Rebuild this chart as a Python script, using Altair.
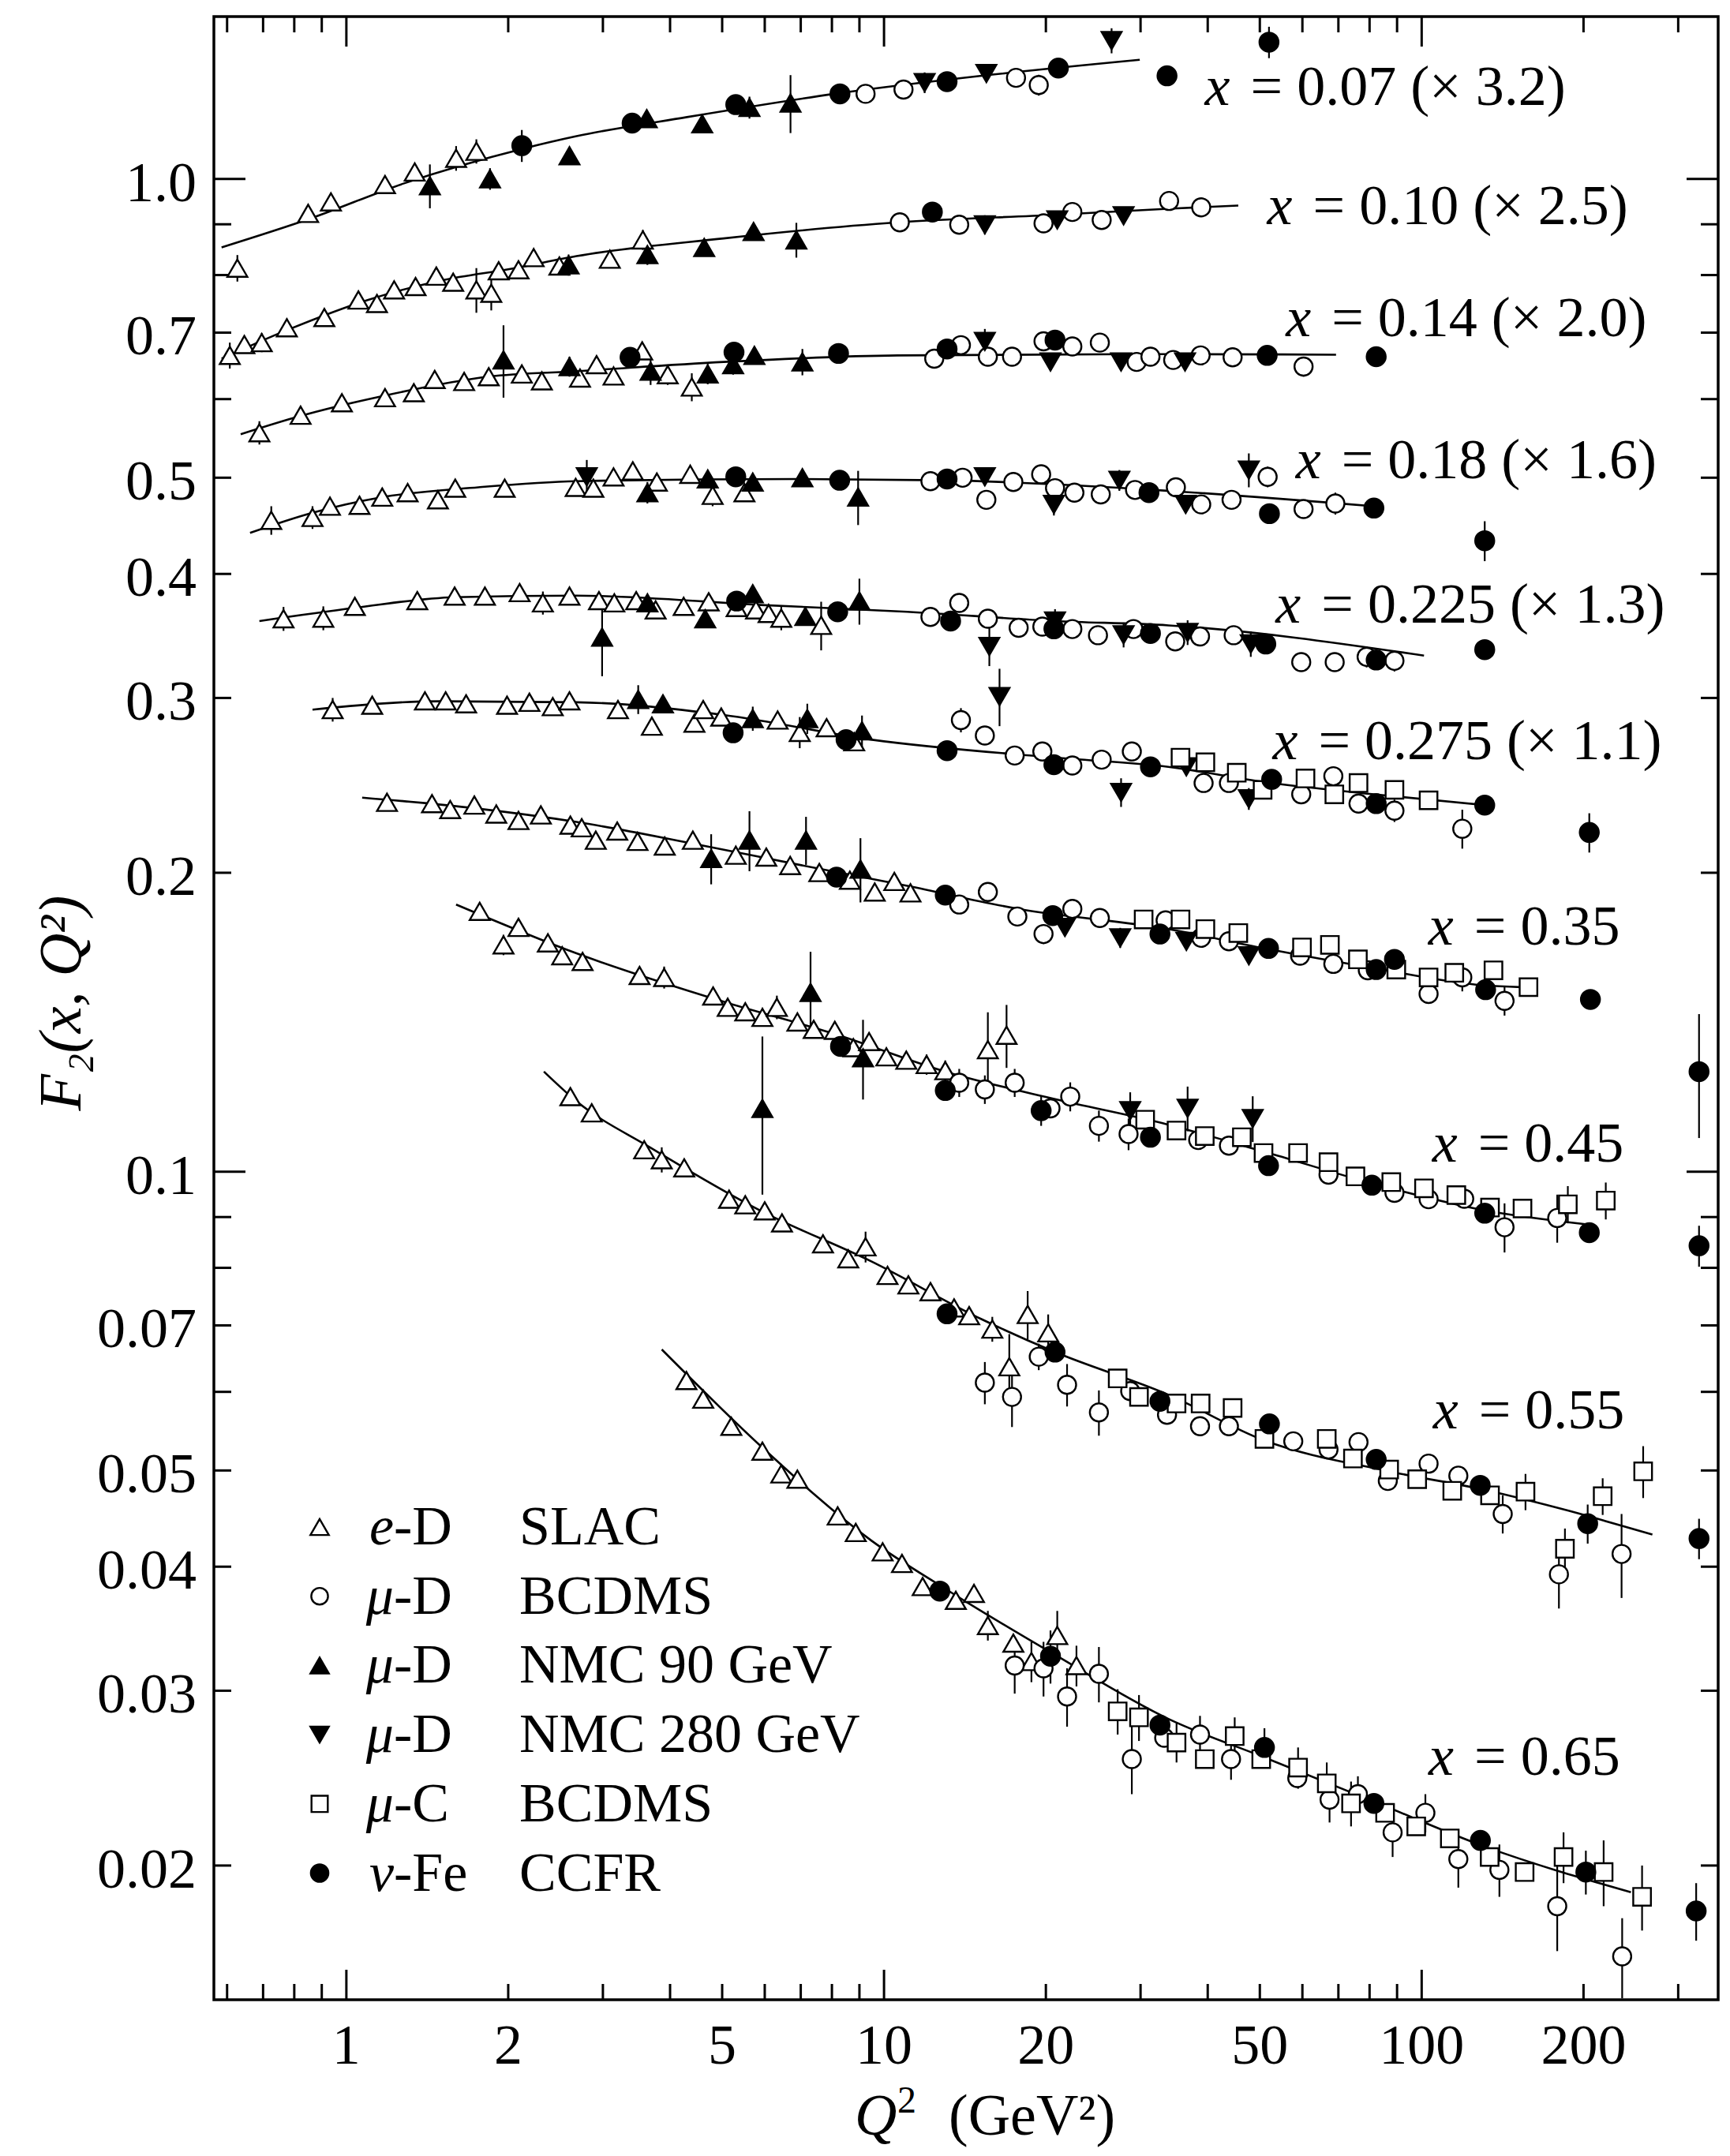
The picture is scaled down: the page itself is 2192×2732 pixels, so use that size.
import altair as alt
import pandas as pd

# ------------------------------------------------------------------
# Values.  Each entry: (Q^2 [GeV^2], F2, error)
# error 0 = error bar hidden by the marker
# ------------------------------------------------------------------
slac_eD = [
    # x = 0.07
    (0.627, 0.813, 0.025), (0.849, 0.923, 0), (0.936, 0.948, 0), (1.18, 0.987, 0),
    (1.34, 1.016, 0), (1.60, 1.049, 0.03), (1.745, 1.066, 0.03),
    # x = 0.10
    (0.607, 0.664, 0.02), (0.646, 0.681, 0), (0.696, 0.684, 0.015), (0.775, 0.708, 0.015),
    (0.910, 0.725, 0.015), (1.053, 0.755, 0), (1.14, 0.749, 0), (1.227, 0.773, 0),
    (1.345, 0.779, 0), (1.47, 0.798, 0), (1.58, 0.787, 0), (1.745, 0.773, 0.04),
    (1.86, 0.767, 0.03), (1.92, 0.808, 0), (2.09, 0.810, 0), (2.23, 0.833, 0),
    (2.49, 0.817, 0.015), (3.09, 0.830, 0.01), (3.56, 0.868, 0.02),
    # x = 0.14
    (0.689, 0.555, 0.015), (0.822, 0.578, 0), (0.981, 0.595, 0), (1.18, 0.602, 0),
    (1.335, 0.609, 0), (1.46, 0.628, 0), (1.656, 0.625, 0), (1.84, 0.632, 0),
    (2.12, 0.636, 0), (2.31, 0.626, 0), (2.72, 0.630, 0), (2.92, 0.650, 0.01),
    (3.14, 0.633, 0.01), (3.55, 0.671, 0), (3.96, 0.635, 0.015), (4.39, 0.617, 0.02),
    # x = 0.18
    (0.725, 0.453, 0.015), (0.865, 0.456, 0.012), (0.932, 0.468, 0), (1.058, 0.469, 0.01),
    (1.166, 0.478, 0.01), (1.30, 0.483, 0), (1.48, 0.475, 0), (1.594, 0.488, 0),
    (1.97, 0.488, 0), (2.67, 0.489, 0), (2.88, 0.488, 0), (3.14, 0.501, 0),
    (3.41, 0.508, 0), (3.78, 0.495, 0), (4.36, 0.504, 0), (4.80, 0.480, 0.012),
    (5.50, 0.483, 0.01),
    # x = 0.225
    (0.764, 0.3605, 0.01), (0.906, 0.361, 0.01), (1.037, 0.371, 0), (1.355, 0.376, 0),
    (1.59, 0.380, 0), (1.81, 0.380, 0), (2.10, 0.383, 0), (2.32, 0.374, 0.01),
    (2.60, 0.380, 0), (2.95, 0.376, 0), (3.15, 0.374, 0), (3.46, 0.376, 0),
    (3.76, 0.368, 0), (4.24, 0.371, 0), (4.72, 0.375, 0), (5.32, 0.370, 0),
    (5.78, 0.368, 0), (6.10, 0.365, 0), (6.44, 0.361, 0.01), (7.64, 0.355, 0.02),
    # x = 0.275
    (0.943, 0.292, 0.008), (1.117, 0.295, 0), (1.40, 0.298, 0), (1.53, 0.298, 0),
    (1.67, 0.296, 0), (1.99, 0.295, 0), (2.19, 0.297, 0), (2.42, 0.294, 0),
    (2.60, 0.298, 0), (3.20, 0.292, 0), (3.70, 0.281, 0), (4.44, 0.283, 0),
    (4.61, 0.292, 0), (4.98, 0.287, 0), (6.34, 0.285, 0), (6.97, 0.277, 0.01),
    (7.82, 0.280, 0), (8.80, 0.271, 0),
    # x = 0.35
    (1.19, 0.2355, 0), (1.443, 0.2348, 0), (1.56, 0.2316, 0.004), (1.73, 0.2340, 0),
    (1.90, 0.2292, 0), (2.09, 0.2258, 0), (2.30, 0.2287, 0), (2.61, 0.2234, 0),
    (2.74, 0.2220, 0), (2.91, 0.2157, 0), (3.19, 0.2203, 0), (3.48, 0.2151, 0),
    (3.91, 0.2128, 0), (4.41, 0.2157, 0), (5.30, 0.2083, 0), (6.04, 0.2074, 0),
    (6.69, 0.2034, 0), (7.58, 0.2001, 0), (8.64, 0.1966, 0), (9.61, 0.1913, 0.003),
    (10.45, 0.1960, 0.003), (11.2, 0.1909, 0.003),
    # x = 0.45
    (1.77, 0.1829, 0), (1.96, 0.1692, 0.004), (2.09, 0.1762, 0), (2.37, 0.1700, 0),
    (2.52, 0.1650, 0), (2.75, 0.1628, 0), (3.51, 0.1576, 0), (3.90, 0.1569, 0.004),
    (4.81, 0.1503, 0), (5.12, 0.1464, 0), (5.52, 0.1449, 0), (5.94, 0.1430, 0),
    (6.32, 0.1464, 0.004), (6.90, 0.1415, 0), (7.40, 0.1391, 0), (8.10, 0.1388, 0),
    (8.77, 0.1333, 0), (9.38, 0.1352, 0), (10.1, 0.1305, 0), (11.0, 0.1295, 0),
    (12.0, 0.1282, 0.003), (13.0, 0.1264, 0.003), (15.6, 0.1327, 0.012), (16.9, 0.1372, 0.01),
    # x = 0.55
    (2.61, 0.1190, 0), (2.86, 0.1146, 0), (3.58, 0.1052, 0), (3.86, 0.1028, 0.003),
    (4.25, 0.1009, 0), (5.15, 0.0938, 0), (5.52, 0.0926, 0), (6.00, 0.0913, 0),
    (6.46, 0.0888, 0), (7.70, 0.0846, 0), (8.58, 0.0817, 0), (9.24, 0.0840, 0.003),
    (10.15, 0.0786, 0), (11.1, 0.0769, 0), (12.2, 0.0757, 0), (13.5, 0.0729, 0),
    (14.4, 0.0716, 0), (15.9, 0.0694, 0.002), (17.1, 0.0636, 0.005), (18.5, 0.0718, 0.004),
    (20.2, 0.0688, 0.003),
    # x = 0.65
    (4.29, 0.0616, 0), (4.61, 0.0590, 0), (5.20, 0.0554, 0), (5.94, 0.0523, 0),
    (6.44, 0.0496, 0), (6.90, 0.0490, 0), (8.20, 0.0450, 0), (8.86, 0.0433, 0),
    (9.94, 0.0414, 0), (10.8, 0.0403, 0), (11.8, 0.0382, 0), (13.6, 0.0370, 0),
    (14.7, 0.0376, 0), (15.6, 0.0349, 0.0012), (17.4, 0.0335, 0), (18.8, 0.0321, 0.0015),
    (21.0, 0.0341, 0.002), (22.8, 0.0318, 0.0015),
]

bcdms_muD = [
    # x = 0.07
    (9.24, 1.218, 0), (10.87, 1.230, 0), (17.6, 1.264, 0), (19.4, 1.243, 0.03),
    # x = 0.10
    (10.7, 0.904, 0), (13.8, 0.899, 0), (19.8, 0.902, 0), (22.4, 0.926, 0),
    (25.4, 0.909, 0), (33.9, 0.950, 0.015), (38.9, 0.936, 0.015),
    # x = 0.14
    (12.4, 0.659, 0), (13.9, 0.680, 0), (15.6, 0.662, 0), (17.3, 0.662, 0),
    (19.8, 0.686, 0), (22.4, 0.678, 0), (25.2, 0.684, 0), (29.5, 0.654, 0),
    (31.3, 0.662, 0), (34.5, 0.657, 0), (38.8, 0.664, 0.012), (44.5, 0.661, 0),
    (60.3, 0.647, 0.015),
    # x = 0.18
    (12.2, 0.496, 0), (14.0, 0.500, 0), (15.5, 0.475, 0), (17.4, 0.495, 0),
    (19.6, 0.504, 0), (20.8, 0.488, 0), (22.6, 0.483, 0), (25.3, 0.481, 0),
    (29.3, 0.486, 0), (34.9, 0.489, 0), (38.9, 0.470, 0), (44.3, 0.475, 0),
    (51.7, 0.501, 0.012), (60.3, 0.465, 0.01), (69.1, 0.471, 0.012),
    # x = 0.225
    (12.2, 0.362, 0), (13.8, 0.374, 0), (15.6, 0.3605, 0), (17.8, 0.353, 0),
    (19.7, 0.354, 0), (22.4, 0.352, 0), (25.0, 0.347, 0), (29.1, 0.352, 0),
    (34.8, 0.342, 0), (38.7, 0.346, 0), (44.7, 0.347, 0), (59.7, 0.326, 0),
    (68.9, 0.326, 0), (79.0, 0.330, 0.008), (89.0, 0.327, 0.008),
    # x = 0.275
    (13.9, 0.285, 0.008), (15.4, 0.275, 0), (17.5, 0.2625, 0), (19.7, 0.265, 0),
    (22.4, 0.2565, 0), (25.4, 0.260, 0), (28.9, 0.265, 0), (39.3, 0.2463, 0),
    (43.8, 0.2463, 0), (59.7, 0.2399, 0), (68.5, 0.2502, 0), (76.3, 0.2348, 0),
    (89.0, 0.2310, 0.006), (119, 0.2215, 0.01),
    # x = 0.35
    (13.8, 0.1858, 0), (15.6, 0.1913, 0.004), (17.7, 0.1807, 0.004), (19.8, 0.1735, 0.004),
    (22.4, 0.1839, 0.004), (25.2, 0.1801, 0), (33.4, 0.1791, 0), (38.9, 0.1720, 0),
    (43.8, 0.1706, 0), (59.4, 0.1650, 0), (68.5, 0.1619, 0), (79.4, 0.1595, 0),
    (103, 0.1510, 0), (119, 0.1569, 0.005), (142.6, 0.1486, 0.005),
    # x = 0.45
    (13.8, 0.1229, 0.004), (15.4, 0.1210, 0.004), (17.5, 0.1229, 0.004), (20.4, 0.1158, 0),
    (22.2, 0.1190, 0.004), (25.1, 0.1112, 0.004), (28.5, 0.1091, 0.004), (38.4, 0.1076, 0),
    (43.8, 0.1062, 0), (67.1, 0.0993, 0), (89.0, 0.0952, 0), (103, 0.0938, 0),
    (120, 0.0939, 0), (142.6, 0.0879, 0.005), (178.7, 0.0898, 0.005),
    # x = 0.55
    (15.4, 0.0613, 0.003), (17.3, 0.0593, 0.004), (19.4, 0.0651, 0.002), (21.9, 0.0610, 0.003),
    (25.1, 0.0572, 0.003), (28.7, 0.0601, 0), (33.6, 0.0569, 0), (38.7, 0.0554, 0),
    (43.8, 0.0554, 0), (57.7, 0.0535, 0), (67.1, 0.0525, 0), (76.3, 0.0534, 0),
    (86.5, 0.0488, 0), (103, 0.0508, 0), (117, 0.0494, 0), (141.5, 0.0452, 0.002),
    (180, 0.0393, 0.003), (235.4, 0.0412, 0.004),
    # x = 0.65
    (17.5, 0.0318, 0.002), (19.8, 0.0316, 0.002), (21.9, 0.0296, 0.002), (25.1, 0.0312, 0.002),
    (28.9, 0.0256, 0.002), (33.2, 0.0269, 0), (38.7, 0.0271, 0.0012), (44.2, 0.0256, 0.0012),
    (58.7, 0.0245, 0), (67.4, 0.0233, 0.0012), (76.1, 0.0236, 0.001), (88.3, 0.0216, 0.0012),
    (101.6, 0.0226, 0.001), (117, 0.0203, 0.0013), (139.5, 0.0198, 0.0012),
    (178.7, 0.0182, 0.0018), (236, 0.0162, 0.0015),
]

nmc90_muD = [
    # x = 0.07
    (1.43, 0.984, 0.05), (1.85, 1.000, 0.025), (2.60, 1.055, 0), (3.62, 1.150, 0.02),
    (4.59, 1.136, 0.02), (5.62, 1.180, 0.03), (6.70, 1.192, 0.08),
    # x = 0.10
    (2.59, 0.819, 0.02), (3.63, 0.839, 0.02), (4.63, 0.853, 0), (5.72, 0.885, 0),
    (6.87, 0.868, 0.035),
    # x = 0.14
    (1.96, 0.657, 0.055), (2.60, 0.647, 0.015), (3.68, 0.640, 0.02), (4.70, 0.636, 0.015),
    (5.24, 0.650, 0.015), (5.74, 0.664, 0), (7.05, 0.654, 0.02),
    # x = 0.18
    (3.63, 0.483, 0.012), (4.70, 0.4985, 0), (5.70, 0.495, 0), (7.05, 0.500, 0),
    (8.95, 0.478, 0.03),
    # x = 0.225
    (2.99, 0.3455, 0.03), (3.63, 0.374, 0), (4.65, 0.3605, 0), (5.70, 0.382, 0),
    (7.14, 0.3624, 0), (9.00, 0.3756, 0.02),
    # x = 0.275
    (3.49, 0.299, 0.01), (3.88, 0.296, 0), (5.70, 0.286, 0.008), (7.20, 0.286, 0.01),
    (9.10, 0.278, 0.01),
    # x = 0.35
    (4.77, 0.2067, 0.012), (5.62, 0.2157, 0.015), (7.16, 0.2157, 0.012), (9.04, 0.2017, 0.015),
    # x = 0.45
    (5.94, 0.1158, 0.021), (7.30, 0.1515, 0.015), (9.14, 0.1302, 0.012),
]

nmc280_muD = [
    # x = 0.07
    (11.9, 1.250, 0.03), (15.5, 1.277, 0), (26.5, 1.378, 0.04),
    # x = 0.10
    (15.4, 0.899, 0.02), (21.0, 0.909, 0), (27.9, 0.918, 0),
    # x = 0.14
    (15.4, 0.686, 0.02), (20.4, 0.654, 0), (27.6, 0.654, 0), (36.3, 0.654, 0.01),
    # x = 0.18
    (2.80, 0.501, 0.02), (15.4, 0.501, 0.01), (20.7, 0.470, 0.012), (27.4, 0.497, 0.012),
    (36.4, 0.470, 0), (47.7, 0.509, 0.02),
    # x = 0.225
    (15.7, 0.338, 0.015), (20.8, 0.3586, 0.01), (27.9, 0.3473, 0.01), (36.7, 0.3492, 0.01),
    (48.1, 0.340, 0.01),
    # x = 0.275
    (16.4, 0.301, 0.02), (27.6, 0.241, 0.008), (36.5, 0.2557, 0), (47.7, 0.2374, 0.006),
    # x = 0.35
    (21.7, 0.1762, 0), (27.5, 0.1720, 0.004), (36.5, 0.1706, 0.003), (47.7, 0.1650, 0.003),
    # x = 0.45
    (28.7, 0.1152, 0.005), (36.7, 0.1158, 0.006), (48.5, 0.1131, 0.006),
]

bcdms_muC = [
    # x = 0.275
    (35.6, 0.2612, 0), (39.6, 0.2584, 0), (45.3, 0.2522, 0), (50.6, 0.2424, 0),
    (60.8, 0.2489, 0), (68.8, 0.2399, 0), (76.3, 0.2463, 0), (89.0, 0.2424, 0),
    (103, 0.2366, 0.005),
    # x = 0.35
    (30.4, 0.1795, 0), (35.6, 0.1795, 0), (39.6, 0.1755, 0), (45.6, 0.1739, 0),
    (59.9, 0.1682, 0), (67.5, 0.1692, 0), (76.1, 0.1636, 0), (89.7, 0.1598, 0),
    (103, 0.1569, 0), (115, 0.1586, 0), (136, 0.1595, 0), (158, 0.1534, 0),
    # x = 0.45
    (30.6, 0.1128, 0), (35.0, 0.1100, 0), (39.5, 0.1086, 0), (46.3, 0.1083, 0),
    (50.8, 0.1044, 0), (58.9, 0.1044, 0), (67.1, 0.1022, 0), (75.3, 0.0989, 0),
    (87.8, 0.0976, 0), (101, 0.0962, 0), (116, 0.0947, 0), (134, 0.0920, 0),
    (154, 0.0918, 0), (187, 0.0927, 0.004), (220, 0.0935, 0.004),
    # x = 0.55
    (27.2, 0.0619, 0), (29.8, 0.0593, 0), (35.0, 0.0584, 0), (38.8, 0.0584, 0),
    (44.5, 0.0578, 0), (51.0, 0.0538, 0), (66.6, 0.0538, 0), (74.5, 0.0514, 0),
    (87.0, 0.0501, 0), (98.1, 0.0490, 0), (114, 0.0477, 0), (134, 0.0472, 0),
    (156, 0.0476, 0.002), (184.7, 0.0417, 0.002), (217.1, 0.0471, 0.002), (258.2, 0.0499, 0.003),
    # x = 0.65
    (27.2, 0.0286, 0.0015), (29.8, 0.0282, 0.0015), (35.0, 0.0266, 0.0012), (39.5, 0.0256, 0),
    (44.9, 0.0270, 0.0012), (50.3, 0.0256, 0), (58.9, 0.0251, 0.0012), (66.6, 0.0242, 0.0012),
    (73.9, 0.0231, 0.0012), (85.5, 0.0226, 0), (97.7, 0.0219, 0), (112.8, 0.0213, 0),
    (133.8, 0.0204, 0), (155.4, 0.0197, 0), (183.6, 0.0204, 0.0012), (218, 0.0197, 0.0015),
    (257, 0.0186, 0.0014),
]

ccfr_nuFe = [
    # x = 0.07
    (2.12, 1.080, 0.04), (3.40, 1.138, 0), (5.30, 1.188, 0), (8.28, 1.218, 0),
    (13.1, 1.253, 0), (21.1, 1.293, 0), (33.6, 1.270, 0), (52.0, 1.373, 0.05),
    # x = 0.10
    (12.3, 0.926, 0.02),
    # x = 0.14
    (3.37, 0.661, 0), (5.26, 0.669, 0), (8.23, 0.667, 0), (13.1, 0.674, 0),
    (20.8, 0.688, 0), (51.6, 0.664, 0.012), (82.3, 0.662, 0.012),
    # x = 0.18
    (5.30, 0.501, 0), (8.27, 0.497, 0), (13.1, 0.4985, 0), (31.1, 0.483, 0),
    (52.1, 0.460, 0), (81.5, 0.466, 0), (131, 0.432, 0.02),
    # x = 0.225
    (5.32, 0.3756, 0), (8.20, 0.3664, 0), (13.3, 0.3586, 0), (20.7, 0.3522, 0),
    (31.3, 0.3484, 0), (51.3, 0.340, 0), (82.3, 0.3276, 0), (131, 0.3356, 0),
    # x = 0.275
    (5.24, 0.2767, 0), (8.50, 0.2723, 0), (13.1, 0.2655, 0), (20.7, 0.2570, 0.006),
    (31.3, 0.2557, 0), (52.6, 0.2484, 0), (82.3, 0.2348, 0), (131, 0.2340, 0),
    (205, 0.2196, 0.01),
    # x = 0.35
    (8.16, 0.1980, 0), (13.0, 0.1899, 0), (20.6, 0.1811, 0), (32.6, 0.1735, 0),
    (51.9, 0.1678, 0), (82.3, 0.1598, 0), (89.0, 0.1636, 0), (131.5, 0.1525, 0),
    (206, 0.1491, 0), (328, 0.1261, 0.018),
    # x = 0.45
    (8.30, 0.1337, 0), (13.0, 0.1207, 0), (19.6, 0.1152, 0.004), (31.3, 0.1083, 0),
    (51.9, 0.1014, 0), (80.8, 0.0969, 0), (131, 0.0908, 0), (205, 0.0868, 0),
    (328, 0.0842, 0.004),
    # x = 0.55
    (13.1, 0.0719, 0), (20.8, 0.0658, 0), (32.6, 0.0587, 0), (52.1, 0.0557, 0),
    (82.3, 0.0513, 0), (128.5, 0.0483, 0), (203.6, 0.0442, 0.002), (328, 0.0427, 0.002),
    # x = 0.65
    (12.7, 0.0378, 0), (20.4, 0.0325, 0.002), (32.6, 0.0277, 0), (51.0, 0.0263, 0.0012),
    (81.5, 0.0231, 0), (128.6, 0.0212, 0), (202, 0.0197, 0.001), (324, 0.0180, 0.0012),
]

# QCD fit curves: (Q^2, F2)
fit_007 = [(0.586, 0.853), (0.852, 0.911), (1.283, 0.990), (2.124, 1.072), (2.68, 1.104),
           (4.3, 1.154), (8.1, 1.218), (15.2, 1.270), (29.9, 1.318)]
fit_010 = [(0.586, 0.659), (0.775, 0.704), (1.095, 0.755), (1.5, 0.790), (2.06, 0.813),
           (2.68, 0.836), (5.03, 0.871), (10.6, 0.904), (20.8, 0.920), (33.8, 0.933), (45.6, 0.940)]
fit_014 = [(0.636, 0.553), (0.822, 0.577), (1.18, 0.605), (1.84, 0.632), (2.68, 0.640),
           (5.03, 0.654), (10.6, 0.664), (33.8, 0.666), (69.3, 0.665)]
fit_018 = [(0.662, 0.440), (0.865, 0.461), (1.166, 0.478), (1.76, 0.489), (2.68, 0.496),
           (6.9, 0.4985), (13.0, 0.497), (33.8, 0.485), (81.5, 0.468)]
fit_0225 = [(0.689, 0.3586), (1.037, 0.3697), (1.59, 0.379), (2.68, 0.3804), (5.9, 0.3722),
            (11.05, 0.3664), (20.8, 0.3586), (33.8, 0.355), (101, 0.331)]
fit_0275 = [(0.865, 0.292), (1.5, 0.2977), (2.68, 0.297), (5.03, 0.2884), (9.5, 0.2723),
            (20.8, 0.2612), (33.8, 0.2557), (51, 0.2468), (81.5, 0.2399), (131, 0.234)]
fit_035 = [(1.07, 0.2381), (1.73, 0.2323), (2.68, 0.225), (4.3, 0.2146), (6.9, 0.2039),
           (11.05, 0.194), (17.8, 0.1839), (33.8, 0.1755), (51, 0.1678), (81.5, 0.1603),
           (131, 0.154), (153, 0.1534)]
fit_045 = [(1.6, 0.1858), (2.68, 0.1659), (5.03, 0.1483), (8.1, 0.1376), (13.0, 0.1261),
           (20.8, 0.1183), (33.8, 0.1115), (51, 0.1047), (81.5, 0.0972), (131, 0.0914), (206, 0.0884)]
fit_055 = [(2.33, 0.1261), (2.68, 0.1177), (3.68, 0.1057), (5.9, 0.0913), (9.47, 0.0812),
           (15.2, 0.071), (20.8, 0.0658), (33.8, 0.0596), (51, 0.0536), (87, 0.0499),
           (131, 0.0478), (268.6, 0.0431)]
fit_065 = [(3.86, 0.0662), (5.9, 0.0529), (9.47, 0.0425), (13.0, 0.038), (20.8, 0.0326),
           (33.8, 0.0281), (51, 0.0257), (81.5, 0.0232), (131, 0.0209), (245, 0.0188)]

# bin annotations (anchor at the start of the text)
bin_label_q2 = [39.5, 51.6, 55.9, 58.3, 53.5, 52.8, 102.9, 104.6, 105.0, 103.0]
bin_label_f2 = [1.235, 0.938, 0.723, 0.520, 0.372, 0.271, 0.1762, 0.1065, 0.0574, 0.0257]
bin_label_rest = ["= 0.07 (\u00d7 3.2)", "= 0.10 (\u00d7 2.5)", "= 0.14 (\u00d7 2.0)",
                  "= 0.18 (\u00d7 1.6)", "= 0.225 (\u00d7 1.3)", "= 0.275 (\u00d7 1.1)",
                  "= 0.35", "= 0.45", "= 0.55", "= 0.65"]

# axes: tick labels and tick positions
x_label_values = [1, 2, 5, 10, 20, 50, 100, 200]
x_label_text = ["1", "2", "5", "10", "20", "50", "100", "200"]
y_label_values = [0.02, 0.03, 0.04, 0.05, 0.07, 0.1, 0.2, 0.3, 0.4, 0.5, 0.7, 1.0]
y_label_text = ["0.02", "0.03", "0.04", "0.05", "0.07", "0.1", "0.2", "0.3", "0.4", "0.5", "0.7", "1.0"]
x_ticks_major = [1, 10, 100]
x_ticks_minor = [0.6, 0.7, 0.8, 0.9, 2, 3, 4, 5, 6, 7, 8, 9,
                 20, 30, 40, 50, 60, 70, 80, 90, 200, 300]
y_ticks_major = [0.1, 1.0]
y_ticks_minor = [0.02, 0.03, 0.04, 0.05, 0.06, 0.07, 0.08, 0.09,
                 0.2, 0.3, 0.4, 0.5, 0.6, 0.7, 0.8, 0.9]

# legend
legend_particle = ["e", "\u03bc", "\u03bc", "\u03bc", "\u03bc", "\u03bd"]
legend_target = ["-D", "-D", "-D", "-D", "-C", "-Fe"]
legend_experiment = ["SLAC", "BCDMS", "NMC 90 GeV", "NMC 280 GeV", "BCDMS", "CCFR"]

# ------------------------------------------------------------------
W, H = 1906, 2513
FONT = "Liberation Serif"
xs = alt.Scale(type="log", domain=[0.567, 356])
ys = alt.Scale(type="log", domain=[0.01465, 1.457])

experiments = [
    ("SLAC", slac_eD, "triangle-up", "white", 640),
    ("BCDMS-D", bcdms_muD, "circle", "white", 529),
    ("NMC90", nmc90_muD, "triangle-up", "black", 640),
    ("NMC280", nmc280_muD, "triangle-down", "black", 640),
    ("BCDMS-C", bcdms_muC, "square", "white", 500),
    ("CCFR", ccfr_nuFe, "circle", "black", 580),
]

rows = []
for name, pts, _, _, _ in experiments:
    for q2, f2, err in pts:
        rows.append({"exp": name, "q2": q2, "f2": f2, "err": err})
points_df = pd.DataFrame(rows)

fits = {"0.07": fit_007, "0.10": fit_010, "0.14": fit_014, "0.18": fit_018,
        "0.225": fit_0225, "0.275": fit_0275, "0.35": fit_035, "0.45": fit_045,
        "0.55": fit_055, "0.65": fit_065}
curve_df = pd.DataFrame([{"fit": k, "q2": q, "f2": f} for k, v in fits.items() for q, f in v])

X_NOAX = dict(scale=xs, axis=None)
Y_NOAX = dict(scale=ys, axis=None)

layers = []

# fit curves
layers.append(alt.Chart(curve_df).mark_line(color="black", strokeWidth=2.6, interpolate="monotone").encode(
    x=alt.X("q2:Q", **X_NOAX),
    y=alt.Y("f2:Q", **Y_NOAX),
    detail="fit:N",
    order="q2:Q",
))


def tick_layer(values, channel, side, length):
    df = pd.DataFrame({"v": values})
    base = alt.Chart(df).mark_rule(color="black", strokeWidth=3)
    if channel == "x":
        enc = dict(x=alt.X("v:Q", **X_NOAX))
        if side == "bottom":
            enc.update(y=alt.value(H), y2=alt.value(H - length))
        else:
            enc.update(y=alt.value(0), y2=alt.value(length))
    else:
        enc = dict(y=alt.Y("v:Q", **Y_NOAX))
        if side == "left":
            enc.update(x=alt.value(0), x2=alt.value(length))
        else:
            enc.update(x=alt.value(W), x2=alt.value(W - length))
    return base.encode(**enc)


for side in ["bottom", "top"]:
    layers.append(tick_layer(x_ticks_major, "x", side, 38))
    layers.append(tick_layer(x_ticks_minor, "x", side, 20))
for side in ["left", "right"]:
    layers.append(tick_layer(y_ticks_major, "y", side, 40))
    layers.append(tick_layer(y_ticks_minor, "y", side, 22))

# tick labels
xlab_df = pd.DataFrame({"v": x_label_values, "t": x_label_text})
layers.append(alt.Chart(xlab_df).mark_text(
    font=FONT, fontSize=72, align="center", baseline="alphabetic", color="black"
).encode(x=alt.X("v:Q", **X_NOAX), y=alt.value(H + 81), text="t:N"))
ylab_df = pd.DataFrame({"v": y_label_values, "t": y_label_text})
layers.append(alt.Chart(ylab_df).mark_text(
    font=FONT, fontSize=72, align="right", baseline="middle", dy=6, color="black"
).encode(x=alt.value(-22), y=alt.Y("v:Q", **Y_NOAX), text="t:N"))

# error bars
errbars = alt.Chart(points_df).transform_filter("datum.err > 0").transform_calculate(
    lo="datum.f2 - datum.err", hi="datum.f2 + datum.err"
).mark_rule(color="black", strokeWidth=2.2).encode(
    x=alt.X("q2:Q", **X_NOAX), y=alt.Y("lo:Q", **Y_NOAX), y2="hi:Q"
)
layers.append(errbars)

# markers
for name, _, shape, fill, size in experiments:
    layers.append(
        alt.Chart(points_df).transform_filter(alt.datum.exp == name).mark_point(
            shape=shape, filled=True, fill=fill, stroke="black", strokeWidth=2.4,
            size=size, opacity=1
        ).encode(x=alt.X("q2:Q", **X_NOAX), y=alt.Y("f2:Q", **Y_NOAX))
    )

# bin annotations
lab_df = pd.DataFrame({"q2": bin_label_q2, "f2": bin_label_f2, "rest": bin_label_rest})
layers.append(alt.Chart(lab_df).mark_text(
    text="x", font=FONT, fontStyle="italic", fontSize=72, align="left", baseline="middle",
    color="black").encode(x=alt.X("q2:Q", **X_NOAX), y=alt.Y("f2:Q", **Y_NOAX)))
layers.append(alt.Chart(lab_df).mark_text(
    font=FONT, fontSize=72, align="left", baseline="middle", dx=58, color="black"
).encode(x=alt.X("q2:Q", **X_NOAX), y=alt.Y("f2:Q", **Y_NOAX), text="rest:N"))

# legend (inside plot, lower left)
LEG_Y0, LEG_DY = 1914, 87.7
LEG_SYM_X, LEG_MID_X, LEG_EXP_X = 134, 228, 387
one = pd.DataFrame({"a": [0]})
for i, (name, _, shape, fill, size) in enumerate(experiments):
    layers.append(alt.Chart(one).mark_point(
        shape=shape, filled=True, fill=fill, stroke="black", strokeWidth=2.4,
        size=size * 0.85, opacity=1
    ).encode(x=alt.value(LEG_SYM_X), y=alt.value(LEG_Y0 + LEG_DY * i)))

leg_df = pd.DataFrame({"row": list(range(6)), "particle": legend_particle,
                       "target": legend_target, "exper": legend_experiment})
leg_base = alt.Chart(leg_df).transform_calculate(py=f"{LEG_Y0} + {LEG_DY} * datum.row + 22")
layers.append(leg_base.mark_text(font=FONT, fontStyle="italic", fontSize=70, align="right",
                                 baseline="alphabetic", color="black").encode(
    x=alt.value(LEG_MID_X), y=alt.Y("py:Q", scale=None, axis=None), text="particle:N"))
layers.append(leg_base.mark_text(font=FONT, fontSize=70, align="left",
                                 baseline="alphabetic", color="black").encode(
    x=alt.value(LEG_MID_X), y=alt.Y("py:Q", scale=None, axis=None), text="target:N"))
layers.append(leg_base.mark_text(font=FONT, fontSize=70, align="left",
                                 baseline="alphabetic", color="black").encode(
    x=alt.value(LEG_EXP_X), y=alt.Y("py:Q", scale=None, axis=None), text="exper:N"))

# axis titles
layers.append(alt.Chart(one).mark_text(
    text="F\u2082(x, Q\u00b2)", font=FONT, fontStyle="italic", fontSize=76, angle=270,
    align="center", baseline="middle", color="black"
).encode(x=alt.value(-192), y=alt.value(1250)))
layers.append(alt.Chart(one).mark_text(
    text="Q", font=FONT, fontStyle="italic", fontSize=74, align="left", baseline="alphabetic",
    color="black").encode(x=alt.value(812), y=alt.value(2684)))
layers.append(alt.Chart(one).mark_text(
    text="2", font=FONT, fontSize=48, align="left", baseline="alphabetic",
    color="black").encode(x=alt.value(866), y=alt.value(2656)))
layers.append(alt.Chart(one).mark_text(
    text="(GeV\u00b2)", font=FONT, fontSize=74, align="left", baseline="alphabetic",
    color="black").encode(x=alt.value(931), y=alt.value(2684)))

chart = alt.layer(*layers).properties(
    width=W, height=H,
    padding={"left": 263, "top": 13, "right": 4, "bottom": 187},
    autosize=alt.AutoSizeParams(type="none"),
    background="white",
).configure_view(stroke="black", strokeWidth=3.5)

chart.save("out.html", embed_options={"renderer": "svg", "actions": False})
